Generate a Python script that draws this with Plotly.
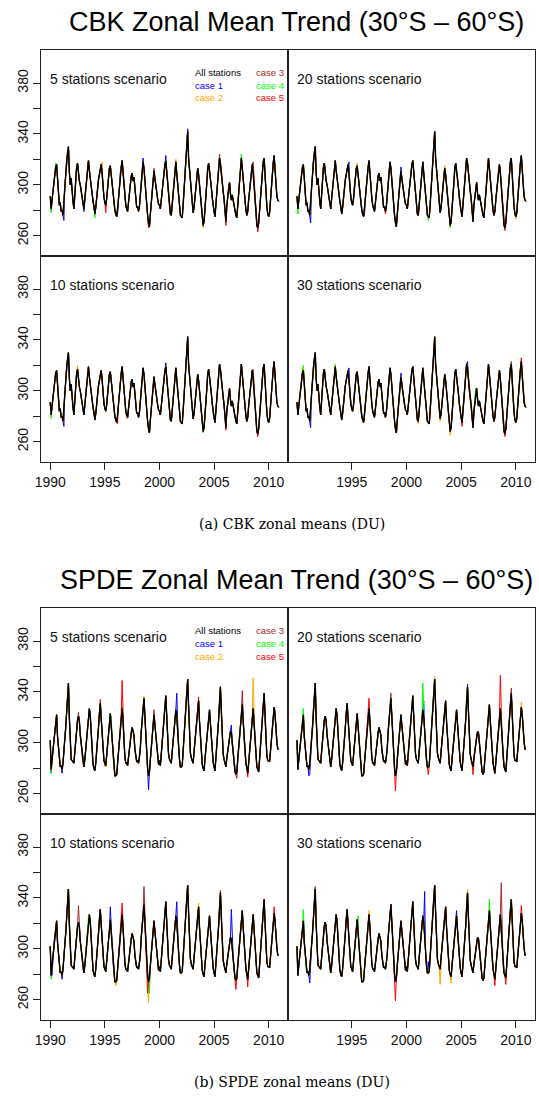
import plotly.graph_objects as go

W, H = 539, 1096
YEARS = list(range(1990, 2011))

# "All stations" monthly zonal means (DU), Jan..Dec per row
CBK_ALL = [
    291, 281, 288, 296, 299, 309, 314, 316, 305, 297, 284, 286,
    279, 280, 276, 287, 299, 307, 318, 325, 330, 310, 300, 305,
    293, 287, 281, 294, 303, 314, 317, 306, 303, 300, 296, 290,
    285, 281, 289, 297, 309, 313, 319, 311, 304, 298, 294, 287,
    283, 277, 282, 291, 295, 304, 308, 312, 316, 309, 298, 290,
    286, 284, 289, 300, 306, 313, 315, 307, 301, 292, 286, 280,
    277, 275, 281, 291, 299, 310, 314, 319, 308, 299, 290, 284,
    281, 279, 286, 293, 301, 307, 309, 303, 306, 296, 288, 282,
    283, 279, 283, 292, 304, 311, 318, 313, 303, 291, 285, 276,
    270, 267, 277, 286, 299, 305, 311, 305, 299, 291, 289, 285,
    284, 281, 288, 294, 304, 309, 316, 319, 310, 301, 289, 282,
    277, 276, 285, 293, 305, 311, 318, 309, 300, 289, 283, 276,
    275, 274, 284, 295, 311, 323, 336, 342, 321, 311, 302, 296,
    286, 278, 282, 289, 300, 306, 313, 308, 301, 291, 284, 276,
    268, 271, 279, 292, 301, 313, 317, 311, 306, 298, 290, 281,
    279, 275, 284, 293, 306, 313, 321, 317, 307, 299, 295, 289,
    280, 271, 284, 291, 300, 302, 293, 288, 292, 287, 284, 278,
    276, 274, 285, 294, 306, 313, 321, 313, 303, 292, 286, 280,
    276, 279, 288, 295, 306, 312, 316, 309, 301, 287, 279, 268,
    266, 270, 281, 290, 303, 310, 318, 321, 306, 295, 283, 277,
    275, 278, 289, 297, 309, 317, 323, 311, 301, 291, 288, 287,
]

SPDE_ALL = [
    302, 279, 287, 294, 304, 310, 318, 322, 305, 294, 284, 281,
    282, 279, 284, 291, 303, 312, 327, 336, 347, 320, 299, 287,
    286, 285, 284, 293, 301, 313, 318, 321, 317, 306, 300, 290,
    284, 281, 287, 295, 307, 314, 323, 327, 321, 305, 293, 283,
    280, 278, 284, 292, 304, 312, 323, 331, 319, 304, 290, 286,
    284, 282, 290, 297, 308, 314, 323, 313, 301, 289, 281, 274,
    274, 275, 284, 293, 305, 313, 323, 327, 317, 301, 289, 284,
    284, 282, 289, 295, 304, 308, 312, 309, 306, 295, 290, 285,
    286, 284, 289, 296, 309, 317, 328, 335, 321, 303, 287, 280,
    274, 277, 287, 295, 307, 314, 322, 314, 304, 297, 291, 283,
    286, 282, 291, 299, 311, 319, 330, 337, 321, 305, 291, 287,
    286, 284, 293, 300, 311, 317, 326, 321, 309, 295, 287, 281,
    281, 282, 293, 303, 318, 329, 342, 350, 329, 307, 292, 288,
    286, 284, 293, 301, 313, 321, 330, 333, 317, 304, 289, 283,
    280, 278, 287, 295, 306, 313, 320, 326, 315, 303, 291, 285,
    281, 278, 288, 296, 309, 318, 332, 344, 325, 306, 291, 287,
    284, 281, 288, 293, 301, 304, 309, 308, 299, 293, 283, 277,
    275, 277, 287, 295, 307, 315, 324, 330, 317, 303, 290, 284,
    280, 276, 284, 292, 304, 312, 321, 327, 315, 302, 287, 281,
    279, 277, 287, 296, 309, 318, 330, 339, 321, 304, 290, 286,
    286, 285, 293, 300, 311, 319, 328, 322, 307, 301, 295, 295,
]

CASE_NAMES = ["case 1", "case 2", "case 3", "case 4", "case 5"]
CASE_COLORS = ["#0000FF", "#FFA500", "#A52A2A", "#00FF00", "#FF0000"]

# Where each case departs visibly from "All stations" (month -> DU)
CBK_5 = [
    {"1991-04": 272, "2002-08": 344, "1998-07": 321, "2000-08": 323, "1996-03": 277, "1993-02": 279},
    {"1994-10": 318, "1997-08": 302, "2001-07": 320, "2004-01": 266},
    {"2008-08": 318, "2005-07": 324, "1999-07": 313},
    {"1990-02": 278, "1990-07": 317, "1994-02": 274, "2007-07": 324, "2010-09": 303},
    {"1995-02": 278, "2009-01": 263, "2008-08": 312, "2005-08": 314, "2006-02": 268, "2000-08": 313, "1999-01": 266},
]
CBK_20 = [
    {"1991-04": 270, "1991-03": 272, "1996-03": 276, "2006-02": 273, "2009-02": 272, "1994-10": 318, "1999-07": 314},
    {"2003-07": 315, "1995-07": 317, "2010-01": 273},
    {"2002-08": 341, "2007-07": 318},
    {"1990-02": 277, "2004-01": 266, "2002-01": 272},
    {"2009-01": 264, "2008-08": 311, "1998-02": 277, "2004-08": 309},
]
CBK_10 = [
    {"1991-04": 272, "1990-06": 310, "2000-08": 322, "2002-08": 343},
    {"1992-07": 320, "1997-01": 278},
    {"2008-08": 317},
    {"1990-02": 278, "1998-07": 316, "2004-01": 267},
    {"2009-01": 264, "2008-08": 312, "2006-02": 269, "1996-03": 274},
]
CBK_30 = [
    {"1991-04": 271, "1991-03": 273, "1999-07": 314, "2005-08": 323, "1994-10": 318},
    {"2004-01": 265, "2001-02": 274, "2003-02": 276, "1990-07": 318},
    {"2002-08": 343, "2009-08": 323},
    {"1990-08": 320, "1993-07": 321, "2006-05": 302},
    {"2009-01": 264, "2005-02": 272, "2008-08": 311, "2010-07": 326},
]
SPDE_5 = [
    {"1999-01": 263, "2001-08": 339, "2006-08": 314, "1990-02": 276, "1991-02": 276, "2010-08": 325},
    {"2008-08": 351, "1998-08": 337, "1995-01": 281},
    {"2007-08": 341, "1992-08": 324, "1999-07": 326},
    {"1990-02": 276, "1996-08": 329, "1995-08": 321, "2008-02": 279},
    {"1996-08": 349, "2007-02": 272, "2008-02": 273, "2003-08": 336, "1994-08": 334, "2009-09": 327},
]
SPDE_20 = [
    {"1991-03": 275, "1991-02": 274, "2001-08": 333, "2005-08": 346},
    {"2002-08": 352, "2010-07": 332},
    {"1998-08": 339, "2009-08": 343},
    {"2001-07": 347, "2005-07": 338, "1990-08": 327},
    {"1999-01": 262, "2002-01": 275, "2006-02": 275, "2008-08": 353, "1996-08": 335},
]
SPDE_10 = [
    {"1995-07": 333, "2001-08": 337, "2006-08": 331, "1991-02": 276, "1990-03": 279},
    {"1999-01": 258, "2003-08": 336, "1996-01": 271},
    {"1998-08": 349, "1992-08": 334},
    {"1999-02": 265, "1993-07": 326, "1990-02": 276},
    {"1998-12": 265, "1996-08": 336, "2007-01": 268, "2008-02": 270, "2005-08": 346, "2010-07": 333},
]
SPDE_30 = [
    {"1991-03": 273, "2001-09": 345, "2002-01": 290, "2004-08": 330},
    {"2003-02": 272, "2004-02": 273, "1996-08": 330, "2005-08": 347},
    {"2008-09": 352, "1991-09": 349},
    {"1990-08": 331, "2007-08": 339, "1995-08": 326},
    {"1999-01": 259, "2008-02": 271, "2009-02": 272, "2010-07": 334},
]

PANEL_LABELS = ["5 stations scenario", "20 stations scenario",
                "10 stations scenario", "30 stations scenario"]
TITLES = ["CBK Zonal Mean Trend (30°S – 60°S)", "SPDE Zonal Mean Trend (30°S – 60°S)"]
CAPTIONS = ["(a) CBK zonal means (DU)", "(b) SPDE zonal means (DU)"]
Y_TICKS = [260, 280, 300, 320, 340, 360, 380]
Y_TICKTEXT = ["260", "", "300", "", "340", "", "380"]
X_TICKS_LEFT = [1990, 1995, 2000, 2005, 2010]
X_TICKS_RIGHT = [1995, 2000, 2005, 2010]

T = [y + m / 12 for y in YEARS for m in range(12)]


def series(base, overrides):
    vals = list(base)
    for key, v in overrides.items():
        yy, mm = key.split("-")
        vals[(int(yy) - YEARS[0]) * 12 + int(mm) - 1] = v
    return vals


XR = [1989.163, 2011.754]
YR = [244, 406]
COLS = [(35.5, 285.0), (285.0, 535.0)]
BLOCK_TOP = [50, 608]
PANEL_H = 206

blocks = [(CBK_ALL, [CBK_5, CBK_20, CBK_10, CBK_30]),
          (SPDE_ALL, [SPDE_5, SPDE_20, SPDE_10, SPDE_30])]

fig = go.Figure()
layout = {}
annotations = []
font = "Liberation Sans, Arial, sans-serif"

n = 0
for b, (base, panels) in enumerate(blocks):
    top = BLOCK_TOP[b]
    for p, cases in enumerate(panels):
        n += 1
        row, col = divmod(p, 2)
        x0, x1 = COLS[col]
        y0 = top + row * PANEL_H
        y1 = y0 + PANEL_H
        xa = "x" if n == 1 else f"x{n}"
        ya = "y" if n == 1 else f"y{n}"
        for c in range(5):
            fig.add_trace(go.Scatter(x=T, y=series(base, cases[c]), mode="lines",
                                     line=dict(color=CASE_COLORS[c], width=1),
                                     xaxis=xa, yaxis=ya, showlegend=False,
                                     hoverinfo="skip"))
        fig.add_trace(go.Scatter(x=T, y=base, mode="lines",
                                 line=dict(color="black", width=1.4),
                                 xaxis=xa, yaxis=ya, showlegend=False,
                                 hoverinfo="skip"))
        xkey = "xaxis" if n == 1 else f"xaxis{n}"
        ykey = "yaxis" if n == 1 else f"yaxis{n}"
        xd = dict(domain=[x0 / W, x1 / W], range=XR, anchor=ya,
                  showline=True, mirror=True, linecolor="#222", linewidth=1,
                  showgrid=False, zeroline=False)
        if row == 1:
            xd.update(tickmode="array",
                      tickvals=X_TICKS_LEFT if col == 0 else X_TICKS_RIGHT,
                      ticks="outside", ticklen=7, tickcolor="#222",
                      tickfont=dict(family=font, size=14, color="#111"))
        else:
            xd.update(showticklabels=False, ticks="")
        yd = dict(domain=[1 - y1 / H, 1 - y0 / H], range=YR, anchor=xa,
                  showline=True, mirror=True, linecolor="#222", linewidth=1,
                  showgrid=False, zeroline=False)
        if col == 0:
            yd.update(tickmode="array", tickvals=Y_TICKS, ticktext=Y_TICKTEXT,
                      ticks="outside", ticklen=7, tickcolor="#222", tickangle=-90,
                      tickfont=dict(family=font, size=14, color="#111"))
        else:
            yd.update(showticklabels=False, ticks="")
        layout[xkey] = xd
        layout[ykey] = yd
        annotations.append(dict(text=PANEL_LABELS[p], x=(x0 + 7) / W, y=1 - (y0 + 29) / H,
                                xref="paper", yref="paper", xanchor="left", yanchor="middle",
                                showarrow=False, font=dict(family=font, size=14, color="#111")))
        if p == 0:
            leg_y = y0 + 22
            annotations.append(dict(text="All stations", x=189 / W, y=1 - leg_y / H,
                                    xref="paper", yref="paper", xanchor="left", yanchor="middle",
                                    showarrow=False, font=dict(family=font, size=9.5, color="black")))
            for c in range(5):
                if c < 2:
                    xx, yy, anc = 189, leg_y + 13 * (c + 1), "left"
                else:
                    xx, yy, anc = 283, leg_y + 13 * (c - 2), "right"
                annotations.append(dict(text=CASE_NAMES[c], x=xx / W, y=1 - yy / H,
                                        xref="paper", yref="paper", xanchor=anc, yanchor="middle",
                                        showarrow=False,
                                        font=dict(family=font, size=9.5, color=CASE_COLORS[c])))
    annotations.append(dict(text=TITLES[b], x=294 / W, y=1 - (top - 28) / H,
                            xref="paper", yref="paper", xanchor="center", yanchor="middle",
                            showarrow=False, font=dict(family=font, size=27, color="black")))
    annotations.append(dict(text=CAPTIONS[b], x=289 / W, y=1 - (top + 2 * PANEL_H + 62) / H,
                            xref="paper", yref="paper", xanchor="center", yanchor="middle",
                            showarrow=False,
                            font=dict(family="DejaVu Serif, serif", size=14, color="black")))

fig.update_layout(width=W, height=H, margin=dict(l=0, r=0, t=0, b=0),
                  paper_bgcolor="white", plot_bgcolor="white",
                  annotations=annotations, **layout)
fig.write_html("out.html", config={"displayModeBar": False},
               post_script="document.body.style.margin='0';document.body.style.overflow='hidden';")
